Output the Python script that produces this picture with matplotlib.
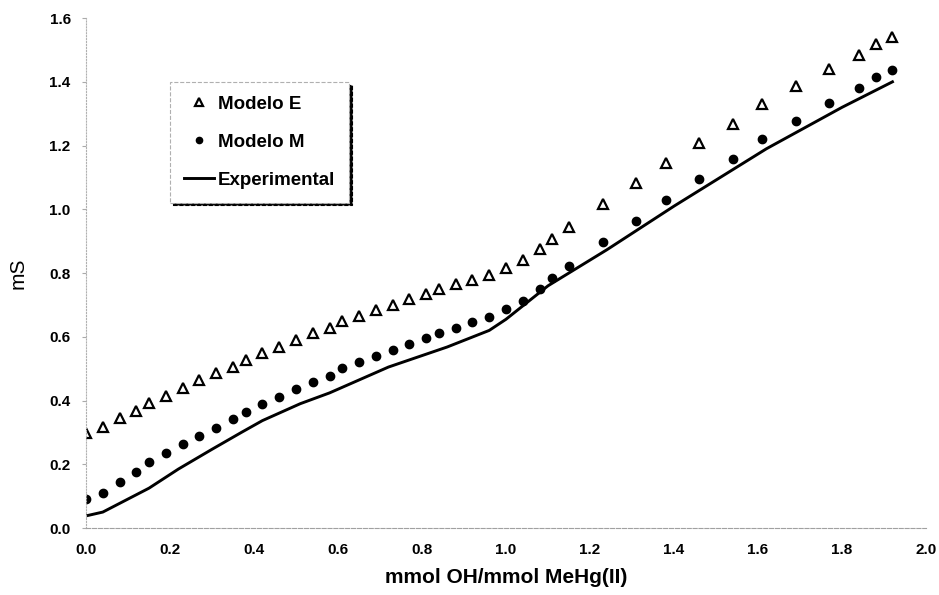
import matplotlib
matplotlib.use("Agg")
import matplotlib.pyplot as plt

plt.rcParams['font.family'] = ['Liberation Sans', 'DejaVu Sans']

# x positions shared by both model series
x_model = [0.00, 0.04, 0.08, 0.12, 0.15, 0.19, 0.23, 0.27, 0.31, 0.35,
           0.38, 0.42, 0.46, 0.50, 0.54, 0.58, 0.61, 0.65, 0.69, 0.73,
           0.77, 0.81, 0.84, 0.88, 0.92, 0.96, 1.00, 1.04, 1.08, 1.11,
           1.15, 1.23, 1.31, 1.38, 1.46, 1.54, 1.61, 1.69, 1.77, 1.84,
           1.88, 1.92]

modelo_e = [0.298, 0.317, 0.345, 0.367, 0.392, 0.414, 0.440, 0.465, 0.487, 0.506,
            0.527, 0.549, 0.568, 0.590, 0.612, 0.628, 0.650, 0.666, 0.684, 0.700,
            0.719, 0.735, 0.750, 0.766, 0.779, 0.794, 0.816, 0.841, 0.876, 0.907,
            0.945, 1.017, 1.083, 1.146, 1.209, 1.268, 1.331, 1.388, 1.441, 1.485,
            1.520, 1.542]

modelo_m = [0.091, 0.110, 0.144, 0.176, 0.207, 0.235, 0.264, 0.289, 0.314, 0.342,
            0.364, 0.389, 0.411, 0.436, 0.458, 0.477, 0.502, 0.521, 0.540, 0.559,
            0.578, 0.597, 0.612, 0.628, 0.647, 0.662, 0.686, 0.713, 0.750, 0.785,
            0.823, 0.898, 0.964, 1.030, 1.096, 1.159, 1.221, 1.278, 1.334, 1.381,
            1.416, 1.438]

x_exp = [0.00, 0.04, 0.15, 0.22, 0.30, 0.37, 0.42, 0.51, 0.58, 0.72,
         0.86, 0.96, 1.00, 1.10, 1.24, 1.40, 1.62, 1.80, 1.92]
y_exp = [0.038, 0.050, 0.125, 0.185, 0.247, 0.300, 0.337, 0.390, 0.424, 0.505,
         0.568, 0.620, 0.655, 0.760, 0.873, 1.010, 1.190, 1.320, 1.400]

xticks = [0.0, 0.2, 0.4, 0.6, 0.8, 1.0, 1.2, 1.4, 1.6, 1.8, 2.0]
yticks = [0.0, 0.2, 0.4, 0.6, 0.8, 1.0, 1.2, 1.4, 1.6]

fig = plt.figure(figsize=(9.39, 5.95), dpi=100)
ax = fig.add_axes([0.0916, 0.1126, 0.8946, 0.857])

ax.plot(x_model, modelo_e, linestyle='none', marker='^', markersize=7,
        markerfacecolor='white', markeredgecolor='black', markeredgewidth=1.6,
        label='Modelo E')
ax.plot(x_model, modelo_m, linestyle='none', marker='o', markersize=6,
        color='black', label='Modelo M')
ax.plot(x_exp, y_exp, 'k-', linewidth=2.1, label='Experimental')

ax.set_xlim(0, 2.0)
ax.set_ylim(0, 1.6)
ax.set_xticks(xticks)
ax.set_yticks(yticks)
ax.set_xticklabels([f"{v:.1f}" for v in xticks], fontweight='bold', fontsize=11)
ax.set_yticklabels([f"{v:.1f}" for v in yticks], fontweight='bold', fontsize=11)
ax.tick_params(axis='y', length=3, color='#aaaaaa', pad=8)
ax.tick_params(axis='x', length=0, pad=11)

for s in ['top', 'right']:
    ax.spines[s].set_visible(False)
ax.spines['left'].set_color('#b0b0b0')
ax.spines['left'].set_linestyle(':')
ax.spines['bottom'].set_color('#a0a0a0')
ax.spines['bottom'].set_linestyle('--')

ax.set_xlabel('mmol OH/mmol MeHg(II)', fontsize=15, fontweight='bold', labelpad=8)
ax.set_ylabel('mS', fontsize=15, labelpad=16)

leg = ax.legend(loc='upper left', bbox_to_anchor=(0.1, 0.875), borderaxespad=0,
                prop={'weight': 'bold', 'size': 13.5}, markerscale=0.75,
                labelspacing=1.1, handlelength=1.6, handletextpad=0.2,
                borderpad=0.75, fancybox=False, framealpha=1,
                shadow={'color': 'black', 'alpha': 1})
leg.get_frame().set_edgecolor('#b0b0b0')
leg.get_frame().set_linestyle('--')
leg.get_frame().set_linewidth(0.8)

fig.savefig('out.png', dpi=100)
